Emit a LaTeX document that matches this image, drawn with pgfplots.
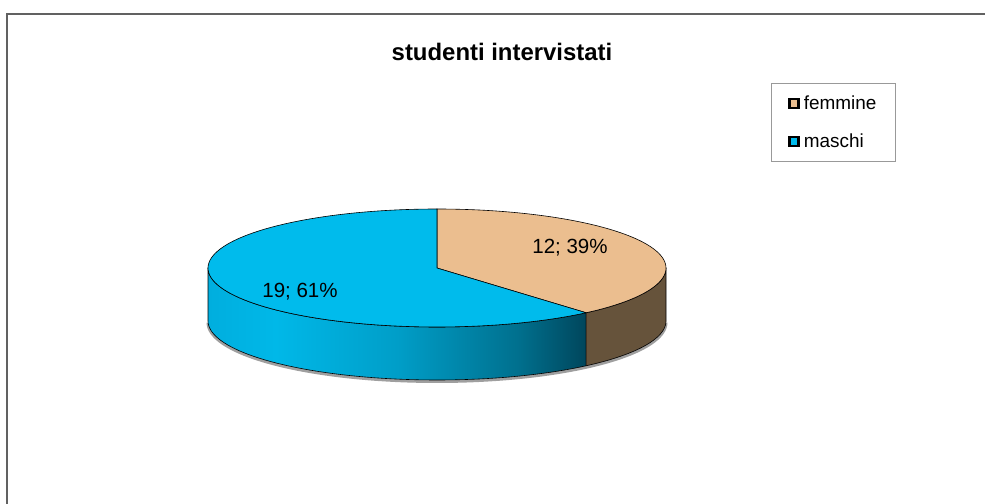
\documentclass[border=0pt]{standalone}
\usepackage{pgfplots}
\pgfplotsset{compat=1.18}
\usepackage{pgfplotstable}
\usepackage{fontspec}
\setmainfont{Liberation Sans}

\pgfplotstableread{
label value
femmine 12
maschi 19
}\piedata

\definecolor{fem}{RGB}{235,190,143}
\definecolor{femside}{RGB}{102,83,59}
\definecolor{mas}{RGB}{0,187,236}
\definecolor{masA}{RGB}{0,174,222}
\definecolor{masB}{RGB}{0,184,232}
\definecolor{masC}{RGB}{0,158,200}
\definecolor{masD}{RGB}{0,112,142}
\definecolor{masE}{RGB}{0,70,92}
\pgfdeclarehorizontalshading{masside}{100bp}{color(0bp)=(masA); color(25bp)=(masA); color(34bp)=(masB); color(50bp)=(masC); color(66bp)=(masD); color(75bp)=(masE); color(100bp)=(masE)}

\begin{document}%
\begin{tikzpicture}
\pgfplotstablegetelem{0}{value}\of\piedata\let\vF\pgfplotsretval
\pgfplotstablegetelem{1}{value}\of\piedata\let\vM\pgfplotsretval
\pgfmathsetmacro\total{\vF+\vM}
\pgfmathsetmacro\aB{90-360*\vF/\total}
\pgfmathsetmacro\aBp{\aB+360}
\useasboundingbox (0,0) rectangle (985bp,504bp);
\begin{axis}[at={(0,0)}, anchor=south west, scale only axis,
  width=985bp, height=504bp, xmin=0, xmax=985, ymin=0, ymax=504,
  hide axis, clip=false,
  legend style={at={(rel axis cs:0.78274,0.83532)}, anchor=north west,
    draw=gray!80, line width=0.8bp, font=\fontsize{19}{22}\selectfont,
    cells={anchor=west}, row sep=19bp, inner xsep=17bp, inner ysep=10.5bp},
  legend image code/.code={\draw[#1,draw=black,line width=2.2bp] (0bp,-4.5bp) rectangle (9bp,4.5bp);\path (12bp,0bp);},
]
% frame
\draw[black!62, line width=1.6bp] (axis cs:7,0) -- (axis cs:7,490) -- (axis cs:985,490);
% shadow
\addplot[forget plot, gray!75, line width=3bp, domain=180:360, samples=90, variable=\t]
  ({437+229*cos(\t)},{181.5+59*sin(\t)});
% maschi side
\addplot[forget plot, draw=black, line width=0.6bp, shade, shading=masside,
  domain=0:121, samples=122, variable=\t]
  ({437+229*cos(\t<60.5 ? 180+(\aBp-180)*\t/60 : \aBp-(\aBp-180)*(\t-61)/60)},
   {(\t<60.5 ? 236 : 183)+59*sin(\t<60.5 ? 180+(\aBp-180)*\t/60 : \aBp-(\aBp-180)*(\t-61)/60)}) -- cycle;
% femmine side
\addplot[forget plot, draw=black, line width=0.6bp, fill=femside,
  domain=0:121, samples=122, variable=\t]
  ({437+229*cos(\t<60.5 ? \aBp+(360-\aBp)*\t/60 : 360-(360-\aBp)*(\t-61)/60)},
   {(\t<60.5 ? 236 : 183)+59*sin(\t<60.5 ? \aBp+(360-\aBp)*\t/60 : 360-(360-\aBp)*(\t-61)/60)}) -- cycle;
% top faces
\addplot[fill=fem, draw=black, line width=0.6bp, domain=\aB:90, samples=80, variable=\t]
  ({437+229*cos(\t)},{236+59*sin(\t)}) -- (axis cs:437,236) -- cycle;
\addlegendentry{femmine}
\addplot[fill=mas, draw=black, line width=0.6bp, domain=90:\aBp, samples=120, variable=\t]
  ({437+229*cos(\t)},{236+59*sin(\t)}) -- (axis cs:437,236) -- cycle;
\addlegendentry{maschi}
% labels
\node[font=\fontsize{20.6}{24}\selectfont] at (axis cs:570,256) {12; 39\%};
\node[font=\fontsize{20.6}{24}\selectfont] at (axis cs:300,212) {19; 61\%};
\node[font=\bfseries\fontsize{24}{28}\selectfont] at (axis cs:502,452) {studenti intervistati};
\end{axis}
\end{tikzpicture}%
\end{document}
